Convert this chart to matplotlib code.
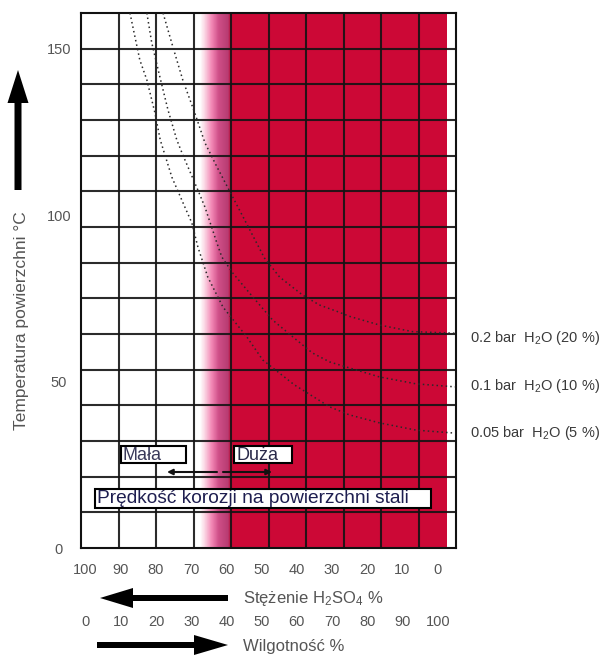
import numpy as np
import matplotlib
matplotlib.use('Agg')
import matplotlib.pyplot as plt
from matplotlib.colors import LinearSegmentedColormap
from matplotlib.patches import FancyArrow, Rectangle
from matplotlib.transforms import IdentityTransform

plt.rcParams['font.family'] = ['Liberation Sans', 'DejaVu Sans']
plt.rcParams['mathtext.fontset'] = 'custom'
plt.rcParams['mathtext.rm'] = 'Liberation Sans'
plt.rcParams['mathtext.it'] = 'Liberation Sans:italic'
plt.rcParams['mathtext.bf'] = 'Liberation Sans:bold'

# ---------------- data ----------------
conc_ticks = [100, 90, 80, 70, 60, 50, 40, 30, 20, 10, 0]        # H2SO4 %
hum_ticks = [0, 10, 20, 30, 40, 50, 60, 70, 80, 90, 100]         # humidity %
temp_ticks = [0, 50, 100, 150]

# dew-point curves (concentration H2SO4 %, surface temperature °C)
curve_20_conc = [78.0, 75.2, 72.4, 69.0, 66.1, 62.7, 58.5, 54.8, 49.2, 44.9, 38.4, 33.6, 27.9, 25.1, 16.6, 7.2, -5.0]
curve_20_temp = [160.7, 150.5, 140.6, 130.7, 121.7, 114.5, 106.0, 98.5, 87.1, 81.4, 76.0, 73.0, 70.8, 69.6, 67.0, 65.0, 64.5]
curve_10_conc = [82.6, 81.2, 78.9, 76.6, 74.1, 72.4, 68.1, 66.1, 64.2, 62.7, 61.3, 58.2, 52.5, 46.9, 40.1, 35.6, 30.7, 25.1, 16.6, 6.1, -5.0]
curve_10_temp = [160.7, 151.7, 141.5, 131.6, 122.6, 118.1, 107.5, 102.4, 96.4, 91.6, 87.4, 82.6, 75.4, 68.5, 62.5, 58.6, 55.9, 54.1, 51.4, 49.3, 48.4]
curve_05_conc = [87.4, 84.6, 82.6, 80.3, 78.8, 75.5, 71.8, 69.8, 68.1, 65.3, 61.0, 54.2, 49.7, 40.7, 30.7, 25.1, 16.6, 6.1, -5.0]
curve_05_temp = [160.7, 146.6, 140.6, 130.7, 122.6, 111.4, 102.4, 97.6, 90.4, 81.4, 72.4, 63.4, 56.5, 49.0, 42.4, 40.0, 37.6, 35.4, 34.5]
curve_labels = ['0.2 bar  H$_2$O (20 %)', '0.1 bar  H$_2$O (10 %)', '0.05 bar  H$_2$O (5 %)']

# corrosion zone (concentration H2SO4 %)
zone_fade_start = 67.6
zone_red_start = 58.8
zone_red_end = -2.5

x_limits = (101.3, -5.2)
y_limits = (0, 160.7)
n_cols = 10
n_rows = 15

# ---------------- figure ----------------
W, H = 610, 659
fig = plt.figure(figsize=(W / 100, H / 100), dpi=100)
ax = fig.add_axes([81 / W, 1 - 548 / H, (456 - 81) / W, (548 - 13) / H])
ax.set_xlim(*x_limits)
ax.set_ylim(*y_limits)

# gradient + red area
N = 1400
cols = np.linspace(zone_fade_start, zone_red_end, N)
t = np.clip((zone_fade_start - cols) / (zone_fade_start - zone_red_start), 0, 1)
cmap = LinearSegmentedColormap.from_list('zone', [
    (0.0, '#ffffff'), (0.15, '#fbd6e4'), (0.38, '#f286b4'),
    (0.6, '#cf4f88'), (0.9, '#b83c72'), (0.97, '#c21a4a'), (1.0, '#cc0836')])
ax.imshow(t[None, :], cmap=cmap, vmin=0, vmax=1, aspect='auto',
          extent=(zone_fade_start, zone_red_end, y_limits[0], y_limits[1]),
          interpolation='nearest', zorder=0)

# grid
for xv in np.linspace(x_limits[0], x_limits[1], n_cols + 1)[1:-1]:
    ax.axvline(xv, color='#141414', lw=1.5, alpha=0.9, zorder=2)
for yv in np.linspace(y_limits[0], y_limits[1], n_rows + 1)[1:-1]:
    ax.axhline(yv, color='#141414', lw=1.5, alpha=0.9, zorder=2)
for s in ax.spines.values():
    s.set_linewidth(1.5)
    s.set_color('#111111')

# curves
for cx, cy in [(curve_20_conc, curve_20_temp), (curve_10_conc, curve_10_temp), (curve_05_conc, curve_05_temp)]:
    ax.plot(cx, cy, color='#2a2a2a', lw=1.1, linestyle=(0, (1, 2)), zorder=3, clip_on=True)

# ticks
ax.set_yticks(temp_ticks)
ax.tick_params(axis='y', length=0, pad=16, labelsize=10.5, labelcolor='#555555')
for lab in ax.get_yticklabels():
    lab.set_ha('center')
ax.set_xticks(conc_ticks)
ax.tick_params(axis='x', length=0, pad=11, labelsize=10.5, labelcolor='#555555')
sec = ax.secondary_xaxis(-0.126, functions=(lambda c: 100 - c, lambda h: 100 - h))
sec.set_xticks(hum_ticks)
sec.tick_params(axis='x', length=0, pad=0, labelsize=10.5, labelcolor='#555555')
sec.spines['bottom'].set_visible(False)

I = IdentityTransform()
def px(x, y):
    return x, H - y

# axis titles
fig.text(*px(22, 321), 'Temperatura powierzchni °C', rotation=90, ha='center', va='center',
         fontsize=12.5, color='#555555', transform=I)
fig.text(*px(243, 598), 'Stężenie H$_2$SO$_4$ %', ha='left', va='center',
         fontsize=12, color='#555555', transform=I)
fig.text(*px(243, 647), 'Wilgotność %', ha='left', va='center',
         fontsize=12, color='#555555', transform=I)

# big arrows
arrow_kw = dict(color='black', length_includes_head=True, transform=I, linewidth=0)
fig.patches.append(FancyArrow(*px(18, 190), 0, 120, width=7, head_width=21, head_length=33, **arrow_kw))
fig.patches.append(FancyArrow(*px(228, 598), -128, 0, width=6, head_width=20, head_length=33, **arrow_kw))
fig.patches.append(FancyArrow(*px(97, 645), 131, 0, width=6, head_width=20, head_length=34, **arrow_kw))

# curve labels
for lab, yy in zip(curve_labels, [338, 386, 433]):
    fig.text(*px(470, yy), lab, ha='left', va='center', fontsize=10.5, color='#3a3a3a', transform=I)

# boxes
box_kw = dict(facecolor='white', edgecolor='black', linewidth=1.5, transform=I, zorder=5)
fig.patches.append(Rectangle(px(121, 463), 65, 17, **box_kw))
fig.patches.append(Rectangle(px(234, 463), 58, 17, **box_kw))
fig.patches.append(Rectangle(px(95, 508), 336, 19, **box_kw))
fig.text(*px(123, 455), 'Mała', ha='left', va='center', fontsize=13, color='#3a3a5a', transform=I, zorder=6)
fig.text(*px(236, 455), 'Duża', ha='left', va='center', fontsize=13, color='#2a2a4a', transform=I, zorder=6)
fig.text(*px(97, 498.5), 'Prędkość korozji na powierzchni stali', ha='left', va='center',
         fontsize=13.8, color='#1e1e50', transform=I, zorder=6)

# small arrows
ax.annotate('', xy=(167, H - 472), xytext=(217, H - 472), xycoords='figure pixels', textcoords='figure pixels',
            arrowprops=dict(arrowstyle='-|>', lw=1.5, color='#111111', mutation_scale=8, shrinkA=0, shrinkB=0))
ax.annotate('', xy=(272, H - 472), xytext=(223, H - 472), xycoords='figure pixels', textcoords='figure pixels',
            arrowprops=dict(arrowstyle='-|>', lw=1.5, color='#111111', mutation_scale=8, shrinkA=0, shrinkB=0))

fig.savefig('out.png', dpi=100)
